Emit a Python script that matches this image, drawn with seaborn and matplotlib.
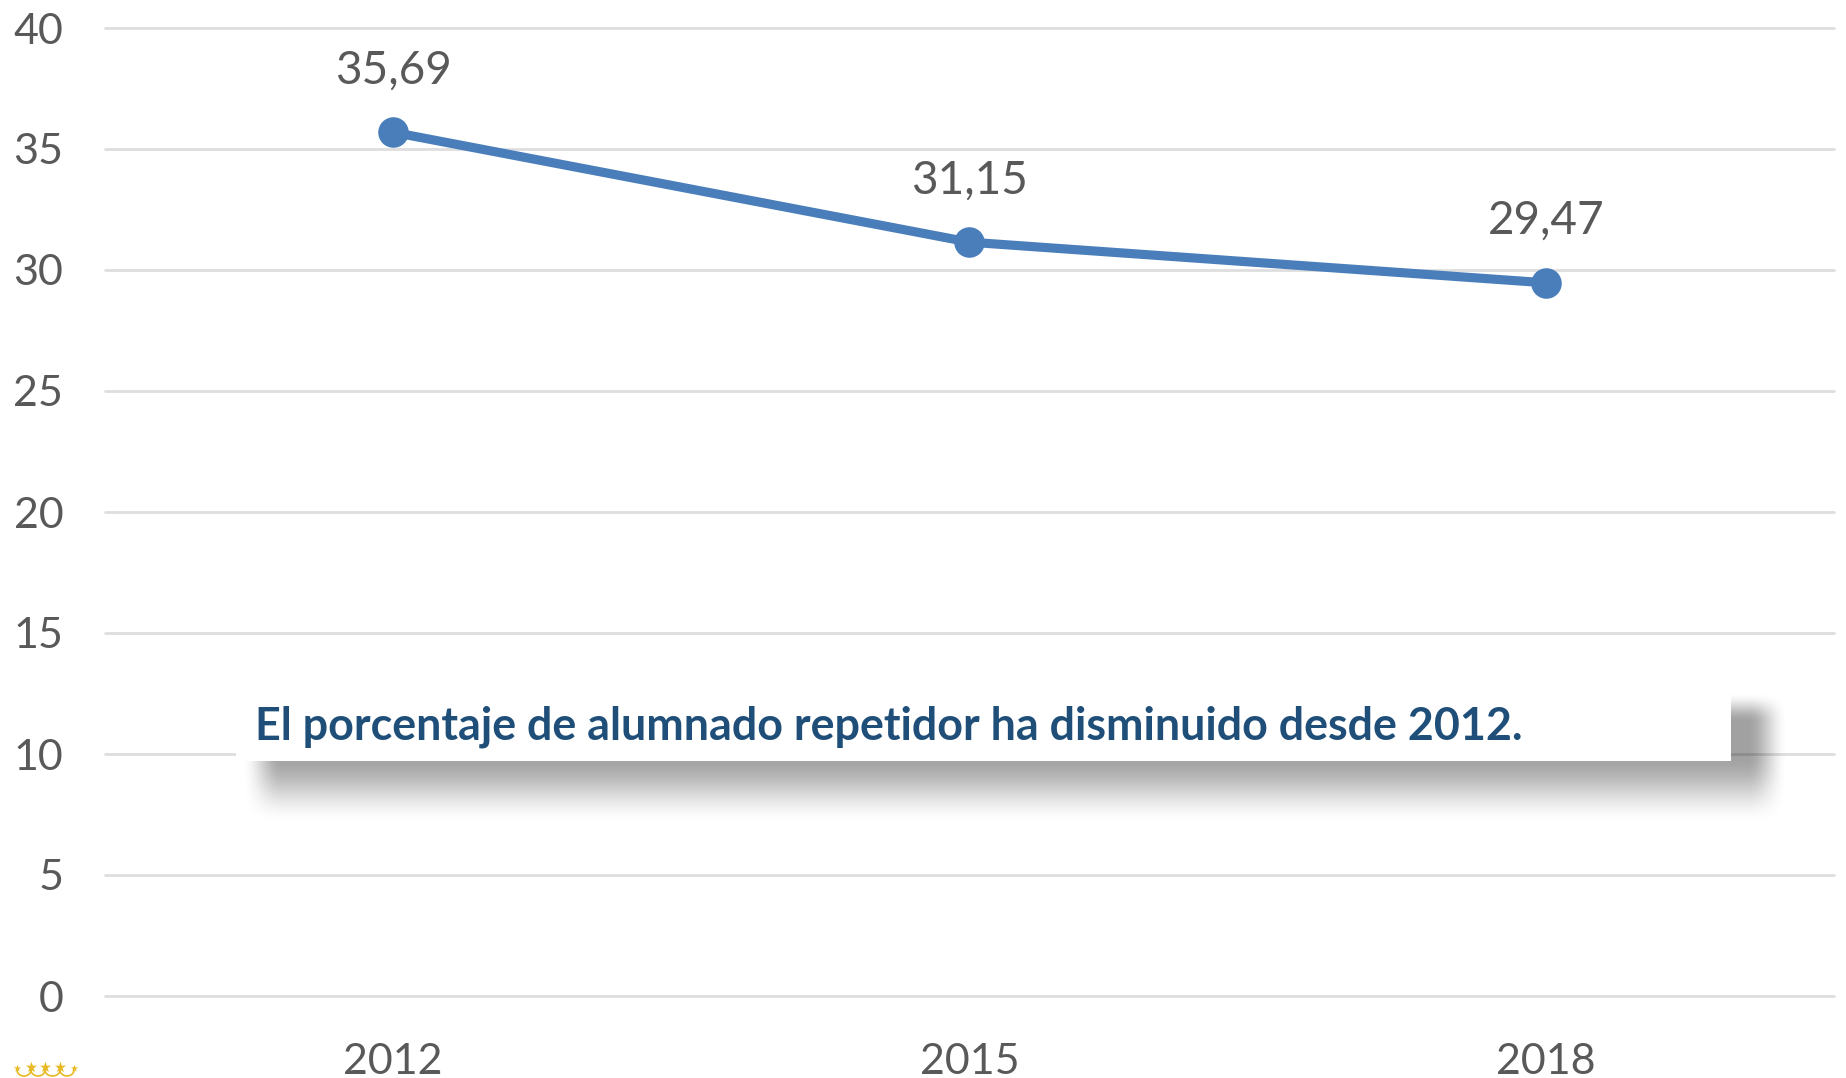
import numpy as np
import pandas as pd
import matplotlib
matplotlib.use("Agg")
import matplotlib.pyplot as plt
from matplotlib.patches import Rectangle
import seaborn as sns

W, H = 1846, 1078

years = ["2012", "2015", "2018"]
repetidor = [35.69, 31.15, 29.47]
y_ticks = [0, 5, 10, 15, 20, 25, 30, 35, 40]
nota = "El porcentaje de alumnado repetidor ha disminuido desde 2012."

sns.set_theme(style="white")
plt.rcParams["font.family"] = ["Lato", "DejaVu Sans"]


def px_axes(fig, x0, y0, x1, y1, **kw):
    # axes placed by image pixels, y measured from the top
    return fig.add_axes([x0 / W, 1 - y1 / H, (x1 - x0) / W, (y1 - y0) / H], **kw)


def ramp(coord, lo, hi, blur_lo, blur_hi):
    # soft edge profile for the shadow
    t_in = np.clip((coord - lo) / blur_lo + 0.5, 0, 1)
    t_out = np.clip((hi - coord) / blur_hi + 0.5, 0, 1)
    return (t_in * t_in * (3 - 2 * t_in)) * (t_out * t_out * (3 - 2 * t_out))


fig = plt.figure(figsize=(W / 100, H / 100), dpi=100, facecolor="white")
ax = px_axes(fig, 105, 28, 1834, 996)

df = pd.DataFrame({"year": years, "pct": repetidor})
sns.lineplot(data=df, x="year", y="pct", ax=ax, color="#4a7ebb", linewidth=6.6,
             marker="o", markersize=22, markeredgewidth=0, zorder=3, sort=False)

ax.set_xlim(-0.5, 2.5)
ax.set_ylim(0, 40)
ax.set_yticks(y_ticks)
ax.set_xlabel("")
ax.set_ylabel("")
ax.grid(axis="y", color="#dedede", linewidth=2)
ax.set_axisbelow(True)
for line in ax.get_ygridlines():
    line.set_clip_on(False)
sns.despine(ax=ax, left=True, bottom=True, top=True, right=True)
ax.tick_params(axis="y", length=0, pad=30, labelsize=31, labelcolor="#595959")
ax.tick_params(axis="x", length=0, pad=33.5, labelsize=31, labelcolor="#595959")

for i, v in enumerate(repetidor):
    ax.annotate(f"{v:.2f}".replace(".", ","), (i, v), xytext=(0, 44.5),
                textcoords="offset points", ha="center", va="center",
                fontsize=33, color="#595959")

# blurred shadow behind the note
sx0, sy0, sx1, sy1 = 215, 680, 1805, 840
xs = np.arange(sx0, sx1) + 0.5
ys = np.arange(sy0, sy1) + 0.5
alpha = 0.37 * np.outer(ramp(ys, 708, 790, 30, 70), ramp(xs, 262, 1768, 40, 40))
shadow = np.zeros(alpha.shape + (4,))
shadow[..., 3] = alpha
ax_sh = px_axes(fig, sx0, sy0, sx1, sy1, zorder=5)
ax_sh.imshow(shadow, aspect="auto", interpolation="bilinear")
ax_sh.axis("off")

# white note box
fig.add_artist(Rectangle((236 / W, 1 - 761 / H), (1731 - 236) / W, (761 - 683) / H,
                         transform=fig.transFigure, facecolor="white",
                         edgecolor="none", zorder=6))
fig.text(255 / W, 1 - 726.5 / H, nota, fontsize=32.3, fontweight="bold",
         color="#1f4e79", ha="left", va="center", zorder=7)

# small gold crown cut off at the bottom left corner
ax_cr = px_axes(fig, 0, 1055, 90, 1078, zorder=4)
ax_cr.set_xlim(0, 90)
ax_cr.set_ylim(23, 0)
ax_cr.axis("off")
star_x = np.array([31, 45, 60])
ax_cr.scatter(star_x, [12, 12, 12], marker="*", s=70, color="#e8b923", linewidths=0)
ax_cr.scatter([17, 74], [13, 13], marker="*", s=30, color="#e8b923", linewidths=0)
for a, b in [(17, 31), (31, 45), (45, 60), (60, 74)]:
    t = np.linspace(0, np.pi, 20)
    ax_cr.plot((a + b) / 2 + (b - a) / 2 * np.cos(t), 15 + 6 * np.sin(t),
               color="#e8b923", linewidth=1.2)

fig.savefig("out.png", dpi=100)
